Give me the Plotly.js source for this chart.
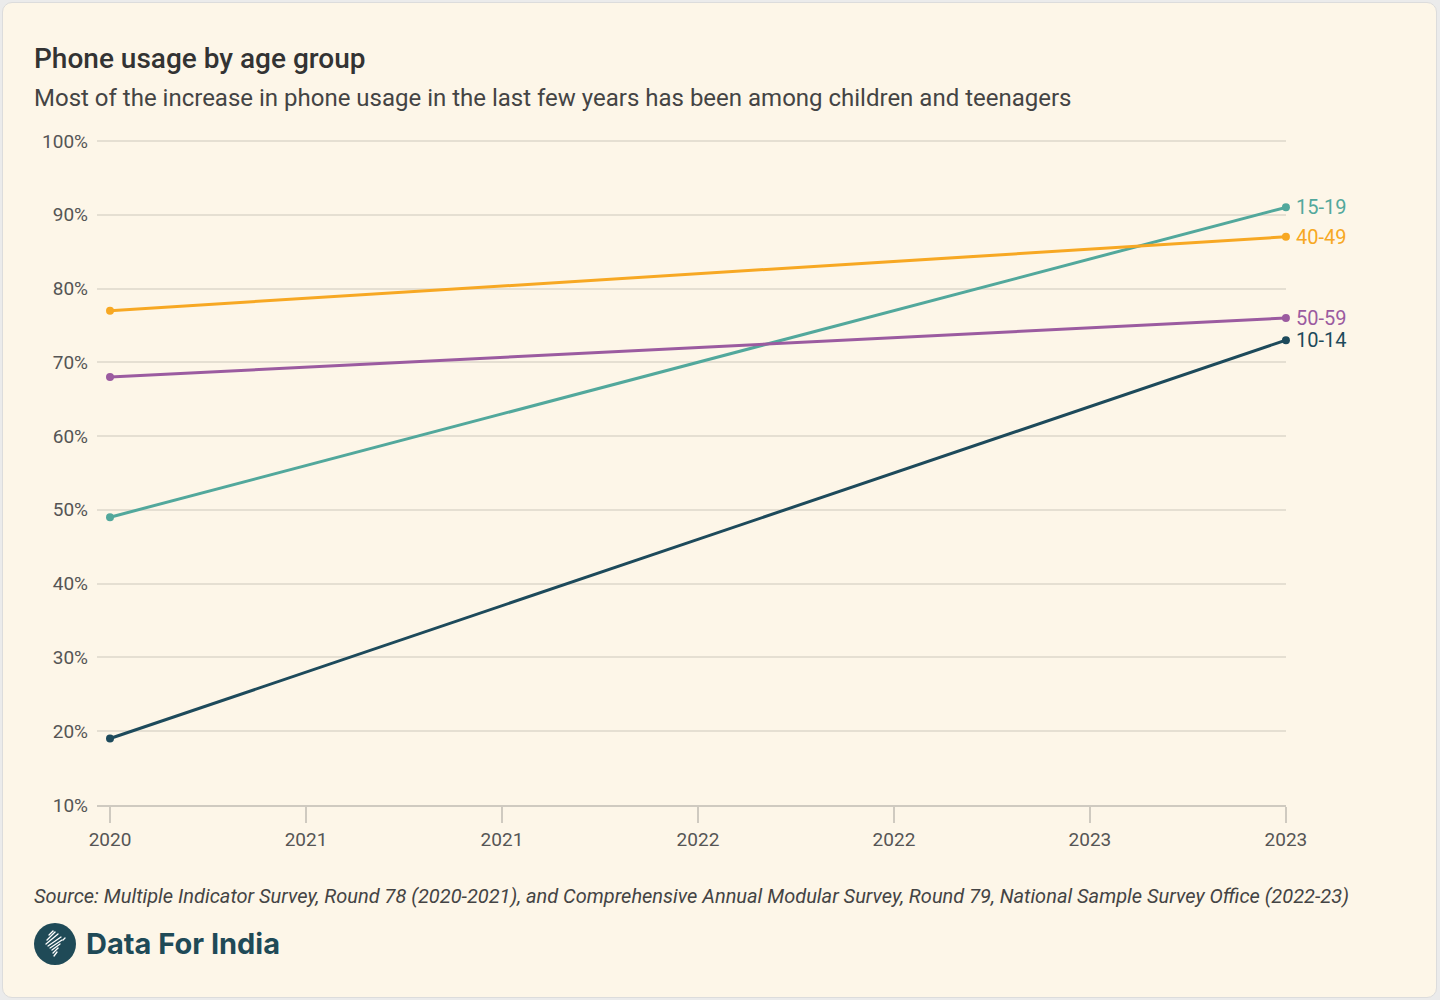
<!DOCTYPE html>
<html>
<head>
<meta charset="utf-8">
<script src="https://cdn.plot.ly/plotly-3.0.1.min.js"></script>
<style>
  html, body { margin: 0; padding: 0; background: #ebebeb; width: 1440px; height: 1000px; overflow: hidden; }
  #card { position: absolute; left: 2px; top: 2px; width: 1433px; height: 994px; background: #fdf6e8;
          border: 1px solid #dcdcdc; border-radius: 10px; }
  #chart { position: absolute; left: 0; top: 0; width: 1440px; height: 1000px; }
  .txt { position: absolute; font-family: Roboto, "Noto Sans", sans-serif; white-space: nowrap; }
  #title { left: 34px; top: 42px; font-size: 28px; font-weight: 500; color: #333333; }
  #subtitle { left: 34px; top: 84px; font-size: 24px; color: #444444; }
  #source { left: 34px; top: 884px; font-size: 20px; font-style: italic; color: #444444; }
  #logo { position: absolute; left: 34px; top: 923px; width: 42px; height: 42px; border-radius: 50%; background: #1f4a57; }
  #logotext { left: 86px; top: 926px; font-family: Inter, Lato, sans-serif; font-size: 29px; font-weight: 700; color: #1f4a57; }
</style>
</head>
<body>
<div id="card"></div>
<div id="chart"></div>
<div class="txt" id="title">Phone usage by age group</div>
<div class="txt" id="subtitle">Most of the increase in phone usage in the last few years has been among children and teenagers</div>
<div class="txt" id="source">Source: Multiple Indicator Survey, Round 78 (2020-2021), and Comprehensive Annual Modular Survey, Round 79, National Sample Survey Office (2022-23)</div>
<div id="logo">
  <svg width="42" height="42" viewBox="0 0 42 42">
    <g stroke="#ffffff" stroke-width="1.3" stroke-linecap="round">
      <line x1="15" y1="12" x2="19" y2="8"/>
      <line x1="13" y1="17" x2="21" y2="9"/>
      <line x1="12" y1="21" x2="24" y2="11"/>
      <line x1="14" y1="23" x2="27" y2="14"/>
      <line x1="16" y1="25" x2="28" y2="17"/>
      <line x1="18" y1="27" x2="26" y2="21"/>
      <line x1="19" y1="30" x2="24" y2="25"/>
      <line x1="20" y1="33" x2="23" y2="29"/>
      <line x1="29" y1="17" x2="31" y2="15"/>
    </g>
  </svg>
</div>
<div class="txt" id="logotext">Data For India</div>
<script>
const years = [2020, 2023];
const groups = ['15-19', '40-49', '50-59', '10-14'];
const values15to19 = [49, 91];
const values40to49 = [77, 87];
const values50to59 = [68, 76];
const values10to14 = [19, 73];
const seriesValues = [values15to19, values40to49, values50to59, values10to14];
const colors = ['#52a89c', '#f7a823', '#9b5ba0', '#1d4a5b'];
const yTickVals = [10, 20, 30, 40, 50, 60, 70, 80, 90, 100];
const yTickText = ['10%', '20%', '30%', '40%', '50%', '60%', '70%', '80%', '90%', '100%'];

const traces = groups.map((g, i) => ({
  type: 'scatter',
  mode: 'lines+markers',
  name: g,
  x: years,
  y: seriesValues[i],
  line: { color: colors[i], width: 3 },
  marker: { color: colors[i], size: 8 },
  cliponaxis: false,
  hovertemplate: g + ': %{y}%<extra></extra>'
}));

const annotations = groups.map((g, i) => ({
  x: years[years.length - 1],
  y: seriesValues[i][seriesValues[i].length - 1],
  xref: 'x', yref: 'y',
  text: g,
  showarrow: false,
  xanchor: 'left',
  yanchor: 'middle',
  xshift: 8,
  font: { family: 'Roboto, sans-serif', size: 20, color: colors[i] }
}));

const layout = {
  width: 1440, height: 1000,
  paper_bgcolor: 'rgba(0,0,0,0)',
  plot_bgcolor: 'rgba(0,0,0,0)',
  margin: { l: 97, r: 154, t: 138, b: 195, pad: 0 },
  showlegend: false,
  font: { family: 'Roboto, sans-serif', color: '#555555' },
  xaxis: {
    range: [2019.9668, 2023.0002],
    tick0: 2020, dtick: 0.5,
    tickformat: '.0f',
    showgrid: false, zeroline: false,
    showline: true, linecolor: '#cfcac0', linewidth: 1.5,
    ticks: 'outside', ticklen: 16, tickcolor: '#cfcac0', tickwidth: 1.5,
    tickfont: { family: 'Roboto, sans-serif', size: 19, color: '#555555' },
    fixedrange: true
  },
  yaxis: {
    range: [9.99, 100.4],
    tickvals: yTickVals,
    ticktext: yTickText,
    showgrid: true, gridcolor: '#e5dfd2', gridwidth: 1.5,
    zeroline: false, showline: false, ticks: '',
    ticklabelstandoff: 8,
    tickfont: { family: 'Roboto, sans-serif', size: 19, color: '#555555' },
    fixedrange: true
  },
  annotations: annotations
};

Plotly.newPlot('chart', traces, layout, { displayModeBar: false });
</script>
</body>
</html>
